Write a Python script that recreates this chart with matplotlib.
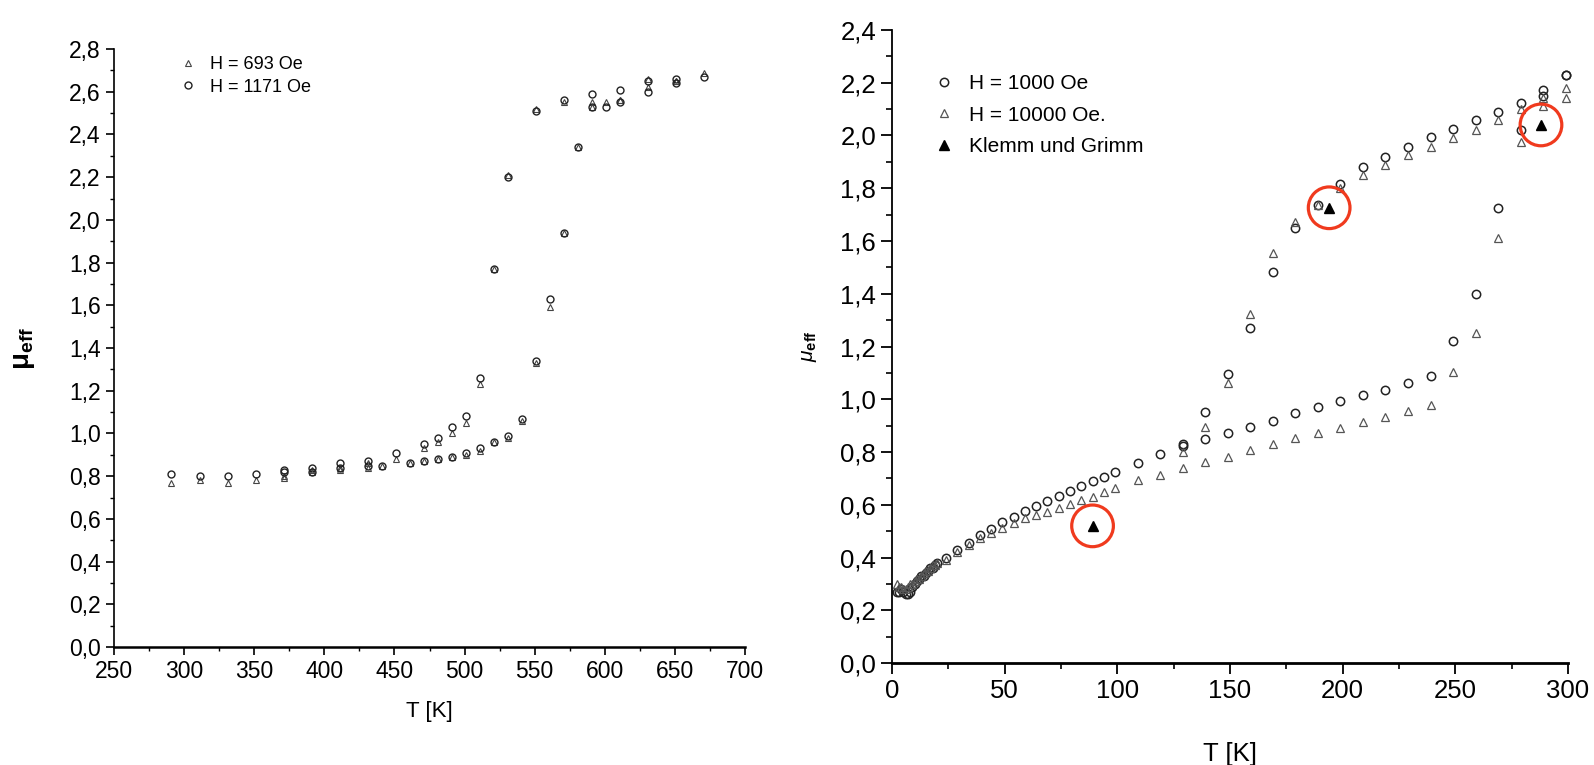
import matplotlib
matplotlib.use('Agg')
import matplotlib.pyplot as plt
from matplotlib import ticker

plt.rcParams['font.family'] = ['Liberation Sans', 'DejaVu Sans']
plt.rcParams['mathtext.fontset'] = 'custom'
plt.rcParams['mathtext.rm'] = 'Liberation Sans'
plt.rcParams['mathtext.it'] = 'Liberation Sans:italic'
plt.rcParams['mathtext.bf'] = 'Liberation Sans:bold'

# ---- linkes Diagramm: 250-700 K ----
T_693 = [291, 311, 331, 351, 371, 391, 411, 431, 441, 461, 471, 481, 491, 501, 511, 521, 531, 541,
         551, 561, 571, 581, 591, 601, 611, 631, 651, 671,
         651, 631, 611, 591, 571, 551, 531, 521, 511, 501, 491, 481, 471, 451, 431, 411, 391, 371]
mu_693 = [0.77, 0.78, 0.77, 0.78, 0.79, 0.82, 0.83, 0.84, 0.85, 0.86, 0.87, 0.88, 0.89, 0.90, 0.92, 0.96, 0.98, 1.06,
          1.33, 1.59, 1.94, 2.34, 2.53, 2.55, 2.56, 2.62, 2.65, 2.69,
          2.65, 2.66, 2.56, 2.55, 2.55, 2.52, 2.21, 1.77, 1.23, 1.05, 1.00, 0.96, 0.93, 0.88, 0.86, 0.84, 0.83, 0.80]
T_1171 = [291, 311, 331, 351, 371, 391, 411, 431, 441, 461, 471, 481, 491, 501, 511, 521, 531, 541,
          551, 561, 571, 581, 591, 601, 611, 631, 651, 671,
          651, 631, 611, 591, 571, 551, 531, 521, 511, 501, 491, 481, 471, 451, 431, 411, 391, 371]
mu_1171 = [0.81, 0.80, 0.80, 0.81, 0.82, 0.82, 0.84, 0.85, 0.85, 0.86, 0.87, 0.88, 0.89, 0.91, 0.93, 0.96, 0.99, 1.07,
           1.34, 1.63, 1.94, 2.34, 2.53, 2.53, 2.55, 2.60, 2.64, 2.67,
           2.66, 2.65, 2.61, 2.59, 2.56, 2.51, 2.20, 1.77, 1.26, 1.08, 1.03, 0.98, 0.95, 0.91, 0.87, 0.86, 0.84, 0.83]

# ---- rechtes Diagramm: 0-300 K ----
T_low = [2, 3, 4, 5, 6, 7, 8, 9, 10, 11, 12, 13, 14, 15, 16, 17, 18, 19, 20,
         24, 29, 34, 39, 44, 49, 54, 59, 64, 69, 74, 79, 84, 89, 94, 99,
         109, 119, 129, 139, 149, 159, 169, 179, 189, 199, 209, 219, 229, 239, 249, 259, 269, 279, 289, 299]
T_up = [299, 289, 279, 269, 259, 249, 239, 229, 219, 209, 199, 189, 179, 169, 159, 149, 139, 129]

mu_1000_low = [0.27, 0.27, 0.28, 0.27, 0.26, 0.26, 0.27, 0.29, 0.30, 0.31, 0.32, 0.33, 0.33, 0.34, 0.35, 0.36, 0.36, 0.37, 0.38,
               0.397, 0.428, 0.456, 0.485, 0.51, 0.533, 0.555, 0.577, 0.595, 0.615, 0.633, 0.652, 0.671, 0.691, 0.706, 0.725,
               0.757, 0.792, 0.823, 0.848, 0.871, 0.896, 0.919, 0.947, 0.972, 0.993, 1.016, 1.035, 1.06, 1.09, 1.222, 1.398,
               1.726, 2.021, 2.15, 2.23]
mu_1000_up = [2.23, 2.172, 2.122, 2.09, 2.059, 2.023, 1.993, 1.958, 1.92, 1.882, 1.816, 1.736, 1.648, 1.481, 1.271,
              1.096, 0.953, 0.83]

mu_10000_low = [0.30, 0.29, 0.29, 0.28, 0.28, 0.29, 0.30, 0.30, 0.31, 0.32, 0.32, 0.33, 0.34, 0.35, 0.35, 0.36, 0.37, 0.37, 0.38,
                0.39, 0.422, 0.447, 0.473, 0.492, 0.511, 0.532, 0.548, 0.561, 0.571, 0.586, 0.603, 0.618, 0.63, 0.65, 0.665,
                0.694, 0.711, 0.738, 0.761, 0.782, 0.808, 0.83, 0.852, 0.871, 0.892, 0.913, 0.932, 0.955, 0.978, 1.105, 1.25,
                1.613, 1.977, 2.112, 2.18]
mu_10000_up = [2.141, 2.141, 2.10, 2.059, 2.021, 1.989, 1.958, 1.926, 1.888, 1.85, 1.80, 1.736, 1.673, 1.553, 1.322,
               1.06, 0.896, 0.80]

T_klemm = [89, 194, 288]
mu_klemm = [0.52, 1.726, 2.04]

komma = ticker.FuncFormatter(lambda v, p: ('%.1f' % v).replace('.', ','))

fig = plt.figure(figsize=(15.94, 7.65), dpi=100)

# ===== links =====
ax1 = fig.add_axes([0.0715, 0.1542, 0.3959, 0.7817])
ax1.plot(T_693, mu_693, ls='none', marker='^', ms=5, mfc='none', mec='#444444', mew=0.8, label='H = 693 Oe')
ax1.plot(T_1171, mu_1171, ls='none', marker='o', ms=5, mfc='none', mec='#222222', mew=1.0, label='H = 1171 Oe')
ax1.set_xlim(250, 700)
ax1.set_ylim(0, 2.8)
ax1.xaxis.set_major_locator(ticker.MultipleLocator(50))
ax1.xaxis.set_minor_locator(ticker.MultipleLocator(25))
ax1.yaxis.set_major_locator(ticker.MultipleLocator(0.2))
ax1.yaxis.set_minor_locator(ticker.MultipleLocator(0.1))
ax1.yaxis.set_major_formatter(komma)
ax1.tick_params(which='major', length=6, width=1.2, labelsize=16.5)
ax1.tick_params(which='minor', length=3, width=1.0)
ax1.spines['top'].set_visible(False)
ax1.spines['right'].set_visible(False)
ax1.spines['left'].set_linewidth(1.2)
ax1.spines['bottom'].set_linewidth(1.8)
ax1.set_xlabel('T [K]', fontsize=16)
ax1.xaxis.set_label_coords(0.5, -0.09)
ax1.set_ylabel(r'$\mathbf{\mu_{eff}}$', fontsize=20)
ax1.yaxis.set_label_coords(-0.122, 0.5)
ax1.legend(loc='upper left', bbox_to_anchor=(0.075, 1.015), frameon=False, fontsize=13,
           handletextpad=0.6, labelspacing=0.3, markerscale=1.0, handlelength=1.2)

# ===== rechts =====
ax2 = fig.add_axes([0.5596, 0.1333, 0.4241, 0.8275])
ax2.plot(T_low, mu_1000_low, ls='none', marker='o', ms=6, mfc='none', mec='#222222', mew=1.1,
         label='H = 1000 Oe', clip_on=False)
ax2.plot(T_up, mu_1000_up, ls='none', marker='o', ms=6, mfc='none', mec='#222222', mew=1.1, clip_on=False)
ax2.plot(T_low, mu_10000_low, ls='none', marker='^', ms=6, mfc='none', mec='#555555', mew=0.9,
         label='H = 10000 Oe.', clip_on=False)
ax2.plot(T_up, mu_10000_up, ls='none', marker='^', ms=6, mfc='none', mec='#555555', mew=0.9, clip_on=False)
ax2.plot(T_klemm, mu_klemm, ls='none', marker='^', ms=6.5, color='black', label='Klemm und Grimm')
ax2.scatter(T_klemm, mu_klemm, s=900, facecolors='none', edgecolors='#f03a1e', linewidths=2.3, zorder=5,
            clip_on=False)
ax2.set_xlim(0, 300)
ax2.set_ylim(0, 2.4)
ax2.xaxis.set_major_locator(ticker.MultipleLocator(50))
ax2.xaxis.set_minor_locator(ticker.MultipleLocator(25))
ax2.yaxis.set_major_locator(ticker.MultipleLocator(0.2))
ax2.yaxis.set_minor_locator(ticker.MultipleLocator(0.1))
ax2.yaxis.set_major_formatter(komma)
ax2.tick_params(which='major', length=8, width=1.3, labelsize=18.5)
ax2.tick_params(which='minor', length=4, width=1.2)
ax2.spines['top'].set_visible(False)
ax2.spines['right'].set_visible(False)
ax2.spines['left'].set_linewidth(1.3)
ax2.spines['bottom'].set_linewidth(2.0)
ax2.set_xlabel('T [K]', fontsize=18.5)
ax2.xaxis.set_label_coords(0.5, -0.125)
ax2.set_ylabel(r'$\mu_{\mathbf{eff}}$', fontsize=15)
ax2.yaxis.set_label_coords(-0.108, 0.5)
ax2.legend(loc='upper left', bbox_to_anchor=(0.03, 0.96), frameon=False, fontsize=15,
           handletextpad=0.6, labelspacing=0.6, handlelength=1.2)

fig.savefig('out.png', dpi=100)
